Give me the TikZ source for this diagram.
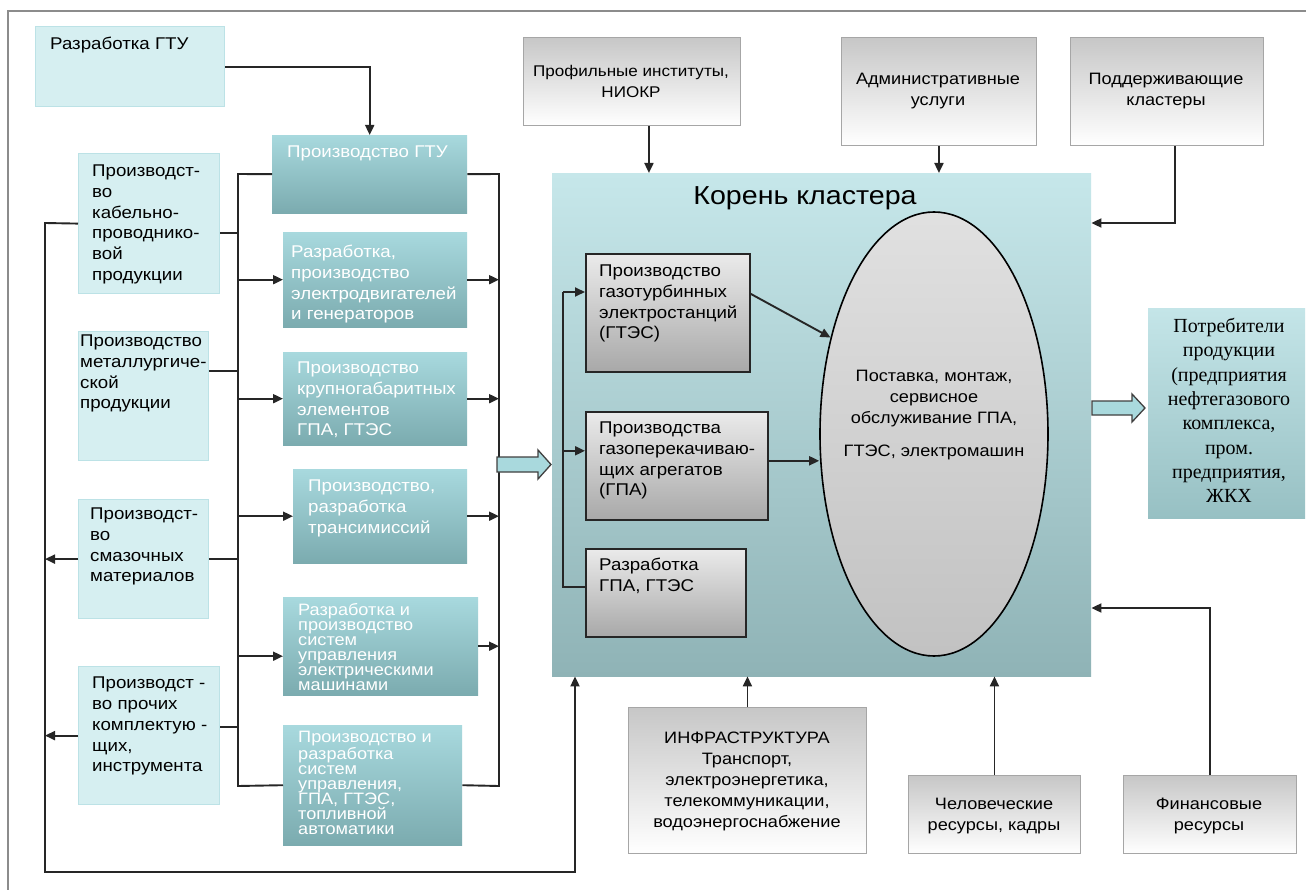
\documentclass[tikz,border=0pt]{standalone}
\usepackage{fontspec}
\setmainfont[FakeStretch=1.1]{Liberation Sans}
\newfontfamily\serifru{Liberation Serif}
\usetikzlibrary{arrows.meta,shapes.geometric,calc}

\definecolor{lbfill}{HTML}{D6EFF1}
\definecolor{lbdraw}{HTML}{BCE2E6}
\definecolor{tealtop}{HTML}{A8D9DE}
\definecolor{tealbot}{HTML}{7BABAF}
\definecolor{maintop}{HTML}{C6E7EA}
\definecolor{mainbot}{HTML}{8FB3B6}
\definecolor{constop}{HTML}{C4E5E8}
\definecolor{consbot}{HTML}{97C0C3}
\definecolor{blockfill}{HTML}{A9D9DD}

% box spanning the corners (x1,y1)-(x2,y2)
\newcommand\mkpanel[6]{%
  \node[#2,anchor=north west,minimum width={(#5)-(#3)},minimum height={(#6)-(#4)}] (#1) at (#3,#4) {};}

\begin{document}
\begin{tikzpicture}[x=1pt,y=-1pt,
  lbox/.style={rectangle,inner sep=0,fill=lbfill,draw=lbdraw,line width=1.2pt},
  mbox/.style={rectangle,inner sep=0,top color=tealtop,bottom color=tealbot,draw=none},
  gbox/.style={rectangle,inner sep=0,top color=black!8,bottom color=black!34,draw=black!85,line width=1.6pt},
  obox/.style={rectangle,inner sep=0,top color=black!22,bottom color=white,draw=black!35,line width=0.9pt},
  ltxt/.style={inner sep=0,align=left,anchor=north west,font={\fontsize{17}{20.7}\selectfont}},
  wtxt/.style={ltxt,text=white},
  wtight/.style={wtxt,font={\fontsize{16.5}{15}\selectfont}},
  ctxt/.style={inner sep=0,align=center,font={\fontsize{16.5}{21}\selectfont}},
  conn/.style={line width=1.9pt,draw=black!85},
  arr/.style={conn,-{Triangle[length=10pt,width=9pt]}},
  blockarr/.style={fill=blockfill,draw=black!75,line width=1.3pt,line join=miter},
  frame/.style={draw=black!45,line width=1.4pt}]

\useasboundingbox (0,0) rectangle (1306,890);
\fill[white] (0,0) rectangle (1306,890);
\draw[frame] (8,890) -- (8,11) -- (1306,11);

% ---------- left column ----------
\mkpanel{rgtu}{lbox}{35}{26}{224}{106}
\node[ltxt] (rgtu-t) at (50,37) {Разработка ГТУ};
\mkpanel{cab}{lbox}{78}{153}{219}{293}
\node[ltxt] (cab-t) at (92,165) {Производст-\\во\\кабельно-\\проводнико-\\вой\\продукции};
\mkpanel{met}{lbox}{78}{331}{208}{460}
\node[ltxt] (met-t) at (80,335) {Производство\\металлургиче-\\ской\\продукции};
\mkpanel{lub}{lbox}{78}{499}{208}{618}
\node[ltxt] (lub-t) at (90,508) {Производст-\\во\\смазочных\\материалов};
\mkpanel{oth}{lbox}{78}{666}{219}{804}
\node[ltxt] (oth-t) at (92,677) {Производст -\\во прочих\\комплектую -\\щих,\\инструмента};

% ---------- middle column ----------
\mkpanel{pgtu}{mbox}{272}{135}{467}{213}
\node[wtxt] (pgtu-t) at (287,146) {Производство ГТУ};
\mkpanel{m2}{mbox}{283}{232}{467}{327}
\node[wtxt] (m2-t) at (291,245) {Разработка,\\производство\\электродвигателей\\и генераторов};
\mkpanel{m3}{mbox}{283}{352}{467}{445}
\node[wtxt] (m3-t) at (297,362) {Производство\\крупногабаритных\\элементов\\ГПА,  ГТЭС};
\mkpanel{m4}{mbox}{293}{469}{467}{563}
\node[wtxt] (m4-t) at (308,480) {Производство,\\разработка\\трансимиссий};
\mkpanel{m5}{mbox}{283}{597}{478}{695}
\node[wtight] (m5-t) at (298,603) {Разработка и\\производство\\систем\\управления\\электрическими\\машинами};
\mkpanel{ctl}{mbox}{283}{725}{462}{845}
\node[wtight] (ctl-t) at (298,731) {Производство и\\разработка\\систем\\управления,\\ГПА, ГТЭС,\\топливной\\автоматики};

% buses on both sides of the middle column
\coordinate (bl1) at (238,174);
\coordinate (bl2) at (238,786);
\coordinate (br1) at (499,174);
\coordinate (br2) at (499,786);
\draw[conn] (pgtu.west) -- (bl1) -- (bl2) -- (ctl.west);
\draw[conn] (pgtu.east) -- (br1) -- (br2) -- (ctl.east);
\foreach \b in {m2,m3,m4} {
  \draw[arr] (\b.west -| bl1) -- (\b.west);
  \draw[arr] (\b.east) -- (\b.east -| br1);
}
\draw[arr] ([yshift=-10pt]m5.west -| bl1) -- ([yshift=-10pt]m5.west);
\draw[arr] (m5.east) -- (m5.east -| br1);

% feeders into the left bus
\draw[conn] ([yshift=-9pt]cab.east) -- ([yshift=-9pt]cab.east -| bl1);
\draw[conn] ([yshift=25pt]met.east) -- ([yshift=25pt]met.east -| bl1);
\draw[conn] (lub.east) -- (lub.east -| bl1);
\draw[conn] ([yshift=9pt]oth.east) -- ([yshift=9pt]oth.east -| bl1);

\draw[arr] (rgtu.east) -| (pgtu.north);

% ---------- cluster core ----------
\node[rectangle,inner sep=0,top color=maintop,bottom color=mainbot,anchor=north west,
      minimum width=539pt,minimum height=503pt] (main) at (552,173) {};
\node[inner sep=0,font={\fontsize{26}{30}\selectfont}] (title) at (805,198) {Корень  кластера};

\mkpanel{g1}{gbox}{585}{253}{749}{371}
\node[ltxt] (g1-t) at (599,265) {Производство\\газотурбинных\\электростанций\\ (ГТЭС)};
\mkpanel{g2}{gbox}{585}{411}{767}{519}
\node[ltxt] (g2-t) at (599,422) {Производства\\газоперекачиваю-\\щих агрегатов\\(ГПА)};
\mkpanel{g3}{gbox}{585}{548}{745}{636}
\node[ltxt] (g3-t) at (599,558) {Разработка\\ГПА, ГТЭС};

\node[ellipse,inner sep=0,minimum width=228pt,minimum height=444pt,
      top color=black!12,bottom color=black!24,draw=black,line width=1.6pt] (ell) at (934,434) {};
\node[ctxt,anchor=north] (ell-t) at (934,370) {Поставка, монтаж,\\сервисное\\обслуживание ГПА,\\[12pt]ГТЭС, электромашин};

\coordinate (bi1) at (563,292);
\coordinate (bi2) at (563,587);
\draw[arr] (bi1) -- (bi1 -| g1.west);
\draw[conn] (bi1) -- (bi2) -- (bi2 -| g3.west);
\draw[arr] ([yshift=15pt]g2.west -| bi1) -- ([yshift=15pt]g2.west);
\draw[arr] ([yshift=19pt]g1.east) -- (ell.137.6);
\draw[arr] ([yshift=5pt]g2.east) -- ([yshift=5pt]g2.east -| ell.west);

% ---------- block arrows ----------
\draw[blockarr] (497,457) -- (538,457) -- (538,450) -- (551,464.5) -- (538,479) -- (538,472) -- (497,472) -- cycle;
\draw[blockarr] (1092,401) -- (1132,401) -- (1132,394) -- (1145,408) -- (1132,422) -- (1132,415) -- (1092,415) -- cycle;

% ---------- consumers ----------
\node[rectangle,inner sep=0,top color=constop,bottom color=consbot,anchor=north west,
      minimum width=157pt,minimum height=210pt] (cons) at (1148,308) {};
\node[inner sep=0,align=center,anchor=north,font={\serifru\fontsize{20}{24.3}\selectfont}] (cons-t) at (1229,318)
  {Потребители\\продукции\\(предприятия\\нефтегазового\\комплекса,\\пром.\\предприятия,\\ЖКХ};

% ---------- outer supporting blocks ----------
\mkpanel{prof}{obox}{523}{37}{740}{125}
\node[ctxt,font={\fontsize{15.5}{21}\selectfont}] (prof-t) at (631,81) {Профильные институты,\\НИОКР};
\mkpanel{adm}{obox}{841}{37}{1036}{145}
\node[ctxt] (adm-t) at (938,91) {Административные\\услуги};
\mkpanel{sup}{obox}{1070}{37}{1263}{145}
\node[ctxt] (sup-t) at (1166,91) {Поддерживающие\\кластеры};

\mkpanel{infra}{obox}{628}{707}{866}{853}
\node[ctxt] (infra-t) at (747,781) {ИНФРАСТРУКТУРА\\Транспорт,\\электроэнергетика,\\телекоммуникации,\\водоэнергоснабжение};
\mkpanel{hum}{obox}{908}{775}{1080}{853}
\node[ctxt] (hum-t) at (994,816) {Человеческие\\ресурсы, кадры};
\mkpanel{fin}{obox}{1123}{775}{1296}{853}
\node[ctxt] (fin-t) at (1209,816) {Финансовые\\ресурсы};

\draw[arr] ([xshift=17pt]prof.south) -- ([xshift=17pt]prof.south |- main.north);
\draw[arr] (adm.south) -- (adm.south |- main.north);
\coordinate (supc) at (1175,223);
\draw[arr] (sup.south -| supc) -- (supc) -- (supc -| main.east);
\draw[arr] (infra.north) -- (infra.north |- main.south);
\draw[arr] (hum.north) -- (hum.north |- main.south);
\coordinate (finc) at (1209,608);
\draw[arr] (fin.north) -- (fin.north |- finc) -- (finc -| main.east);

% ---------- outer return loop on the left ----------
\coordinate (lo1) at (45,223);
\coordinate (lo2) at (45,872);
\coordinate (lo3) at (575,872);
\draw[arr] (cab.west) -- (lo1) -- (lo2) -- (lo3) -- (lo3 |- main.south);
\draw[arr] (lub.west) -- (lub.west -| lo1);
\draw[arr] (oth.west) -- (oth.west -| lo1);

\end{tikzpicture}
\end{document}
